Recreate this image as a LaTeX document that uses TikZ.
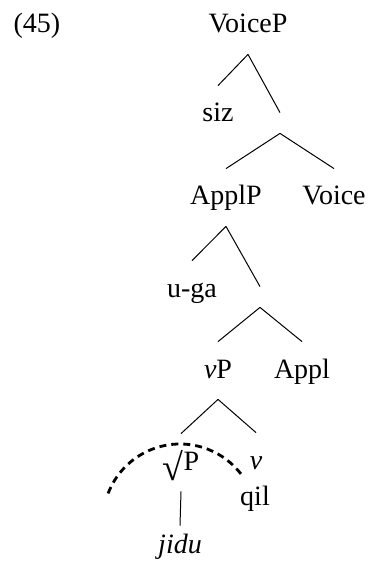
\documentclass[tikz,border=0pt]{standalone}
\usepackage{fontspec}
\setmainfont{Liberation Serif}

\begin{document}
\begin{tikzpicture}[x=0.5pt,y=-0.5pt,
  font=\fontsize{14pt}{16pt}\selectfont,
  lbl/.style={anchor=base,inner xsep=0pt,inner ysep=6pt,text height=12pt,text depth=4.5pt},
  blank/.style={inner sep=0pt,minimum height=10pt,minimum width=0pt},
  edge/.style={line width=0.5pt},
  trace/.style={line width=1.4pt,dash pattern=on 3.5pt off 2.5pt}]
\useasboundingbox (0,0) rectangle (370,571);

\node[lbl] (ex) at (37,33) {(45)};
\node[lbl] (voicep) at (248,33) {VoiceP};
\node[lbl] (siz) at (218,122) {siz};
\node[blank] (e1) at (280,123) {};
\node[lbl] (applp) at (226,205) {ApplP};
\node[lbl] (voice) at (334,205) {Voice};
\node[lbl] (uga) at (192,297) {u-ga};
\node[blank] (e2) at (260,297) {};
\node[lbl] (vp) at (218,378) {\textit{v}P};
\node[lbl] (appl) at (302,378) {Appl};
\node[lbl] (root) at (181,470) {\raisebox{-5pt}{\resizebox{!}{15pt}{√}}P};
\node[lbl] (v) at (256,469) {\textit{v}};
\node[lbl] (qil) at (255,505) {qil};
\node[lbl,text height=7.5pt] (jidu) at (180,553) {\textit{jidu}};
\coordinate (c) at (180,521);

\foreach \m/\d in {voicep/siz, voicep/e1, e1/applp, e1/voice, applp/uga, applp/e2,
                   e2/vp, e2/appl, vp/root, vp/v, root/jidu}
  \draw[edge] (\m.south) -- (\d.north);

\draw[trace] (c) ++(159:38.5pt) arc[start angle=159,end angle=37,radius=38.5pt];

\end{tikzpicture}
\end{document}
